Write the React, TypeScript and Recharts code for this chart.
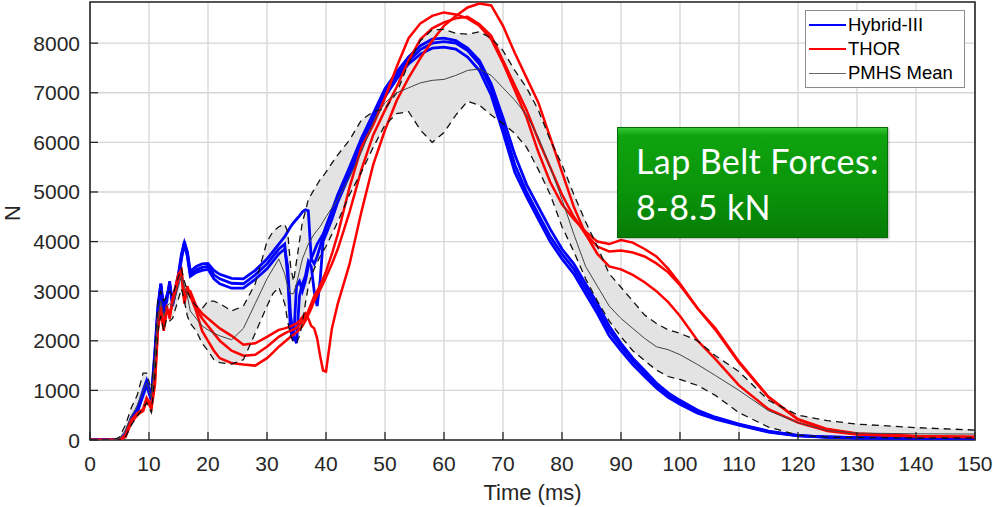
import { ComposedChart, Line, Area, XAxis, YAxis, CartesianGrid, ReferenceArea, Legend } from 'recharts'

// time axis (ms), shared by every trace
const TIME = [
  0, 4, 5, 6, 7, 8, 9, 9.6, 10.4, 11,
  11.5, 12, 12.5, 13, 13.5, 14, 15, 15.5, 16, 16.5,
  17, 18, 19, 20, 21, 22, 24, 26, 28, 30,
  31, 32, 33, 33.5, 34, 34.5, 35, 35.5, 36, 36.5,
  37, 37.5, 38, 38.5, 39, 39.5, 40, 41, 42, 44,
  46, 48, 50, 52, 54, 56, 58, 60, 62, 64,
  66, 68, 70, 72, 74, 76, 78, 80, 82, 84,
  86, 88, 90, 92, 94, 96, 98, 100, 103, 106,
  110, 115, 120, 125, 130, 140, 150,
]

// Hybrid-III lap belt force (N), three tests
const HYBRID_1 = [
  0, 0, 0, 120, 450, 620, 1000, 1200, 880, 1800,
  2700, 3150, 2650, 2900, 3100, 2800, 3350, 3750, 3980, 3800,
  3400, 3500, 3550, 3560, 3420, 3340, 3260, 3250, 3420, 3650,
  3800, 3950, 4100, 4200, 4300, 4380, 4450, 4520, 4600, 4640,
  4620, 3650, 3550, 3700, 3900, 4100, 4300, 4620, 4950, 5500,
  6080, 6580, 7080, 7420, 7720, 7950, 8080, 8100, 8050, 7900,
  7650, 7180, 6500, 5750, 5150, 4700, 4250, 3850, 3550, 3150,
  2750, 2300, 1950, 1650, 1400, 1150, 950, 800, 600, 460,
  320, 180, 95, 60, 45, 40, 40,
]
const HYBRID_2 = [
  0, 0, 0, 100, 420, 580, 950, 1150, 820, 1700,
  2600, 3150, 2600, 2850, 3150, 2750, 3300, 3700, 4000, 3750,
  3350, 3430, 3480, 3500, 3330, 3250, 3160, 3150, 3330, 3550,
  3700, 3850, 3950, 3300, 2200, 2000, 3100, 3200, 3000, 3200,
  3500, 3650, 3800, 3950, 4050, 4150, 4300, 4600, 4900, 5450,
  6000, 6500, 7000, 7350, 7650, 7870, 8000, 8030, 8000, 7850,
  7580, 7080, 6350, 5550, 5000, 4550, 4100, 3750, 3450, 3050,
  2650, 2200, 1880, 1600, 1350, 1100, 900, 760, 570, 440,
  310, 170, 90, 60, 45, 40, 40,
]
const HYBRID_3 = [
  0, 0, 0, 80, 400, 560, 900, 1100, 800, 1600,
  2500, 3100, 2550, 2800, 3200, 2700, 3250, 3650, 3950, 3700,
  3300, 3380, 3420, 3440, 3250, 3150, 3060, 3060, 3240, 3450,
  3600, 3750, 3850, 3500, 2500, 2100, 1950, 2900, 3150, 3300,
  3600, 3500, 3000, 2700, 3200, 4000, 4150, 4450, 4800, 5350,
  5900, 6420, 6920, 7280, 7580, 7780, 7900, 7920, 7880, 7720,
  7450, 6950, 6200, 5400, 4900, 4450, 4000, 3650, 3350, 2950,
  2550, 2100, 1800, 1520, 1280, 1050, 860, 720, 540, 420,
  300, 160, 85, 55, 40, 35, 35,
]

// THOR lap belt force (N), three tests
const THOR_1 = [
  0, 0, 0, 60, 350, 500, 600, 780, 680, 1200,
  2300, 2600, 2200, 2650, 2500, 2800, 3300, 3400, 2800, 3050,
  2950, 2650, 2450, 2300, 2150, 2000, 1800, 1700, 1720, 1880,
  1980, 2080, 2150, 2180, 2200, 2230, 2260, 2320, 2400, 2480,
  2600, 2750, 2900, 3000, 3120, 3250, 3400, 3750, 4150, 5100,
  5900, 6350, 6900, 7530, 8100, 8400, 8550, 8620, 8580, 8500,
  8350, 8080, 7600, 7050, 6500, 5800, 5200, 4750, 4450, 4200,
  4000, 3950, 4030, 3980, 3850, 3700, 3450, 3150, 2650, 2250,
  1580, 870, 420, 220, 130, 80, 60,
]
const THOR_2 = [
  0, 0, 0, 80, 380, 520, 580, 820, 620, 1100,
  2200, 2650, 2300, 2600, 2550, 2750, 3250, 3350, 2750, 3100,
  2900, 2600, 2200, 2000, 1800, 1650, 1550, 1520, 1500, 1650,
  1760, 1880, 1980, 2030, 2080, 2120, 2170, 2230, 2300, 2400,
  2520, 2650, 2800, 2920, 3030, 3150, 3280, 3550, 3850, 4600,
  5450, 6150, 6650, 7120, 7650, 8080, 8300, 8420, 8500, 8530,
  8380, 8150, 7650, 7150, 6650, 6050, 5500, 4950, 4500, 4150,
  3900, 3800, 3820, 3780, 3700, 3560, 3380, 3120, 2650, 2220,
  1560, 860, 410, 210, 120, 75, 60,
]
const THOR_3 = [
  0, 0, 0, 100, 400, 540, 620, 850, 700, 1300,
  2400, 2700, 2250, 2700, 2450, 2850, 3350, 3430, 2850, 3000,
  3000, 2700, 2550, 2450, 2350, 2250, 2100, 1920, 1950, 2080,
  2150, 2220, 2250, 2270, 2290, 2320, 2350, 2400, 2480, 2550,
  2450, 2300, 2250, 2050, 1700, 1400, 1380, 2250, 2750, 3550,
  4600, 5550, 6250, 6850, 7300, 7700, 8050, 8350, 8550, 8720,
  8800, 8760, 8350, 7800, 7300, 6800, 6100, 5400, 4700, 4150,
  3750, 3500, 3440, 3330, 3180, 3000, 2780, 2500, 2000, 1630,
  1100, 620, 350, 180, 110, 70, 60,
]

// PMHS corridor
const PMHS_MEAN = [
  0, 0, 30, 200, 480, 700, 1000, 1150, 850, 1600,
  2400, 2800, 2500, 2700, 2750, 2700, 3100, 3300, 3100, 2900,
  2600, 2450, 2300, 2220, 2150, 2100, 2020, 2250, 2750, 3250,
  3450, 3650, 3350, 3100, 2950, 2950, 3150, 3400, 3650, 3800,
  3950, 4050, 4150, 4230, 4300, 4400, 4500, 4680, 4850, 5300,
  5800, 6400, 6800, 7000, 7100, 7200, 7250, 7270, 7350, 7450,
  7480, 7350, 7100, 6850, 6550, 6100, 5500, 4850, 4150, 3500,
  3100, 2700, 2450, 2250, 2050, 1880, 1820, 1720, 1520, 1300,
  1000, 590, 350, 190, 140, 125, 120,
]
const PMHS_UPPER = [
  0, 0, 60, 300, 650, 900, 1350, 1350, 1000, 1800,
  2800, 3000, 2800, 2900, 3000, 2900, 3300, 3450, 3200, 3000,
  2850, 2700, 2650, 2800, 2800, 2750, 2600, 2700, 3150, 4000,
  4200, 4300, 4350, 4200, 3500, 3200, 3600, 4000, 4400, 4600,
  4850, 4950, 5050, 5150, 5250, 5320, 5400, 5580, 5750, 6050,
  6450, 6620, 6680, 7000, 7600, 8050, 8270, 8280, 8200, 8180,
  8230, 8100, 7850, 7450, 7100, 6650, 6050, 5550, 4950, 4400,
  3900, 3350, 3080, 2800, 2520, 2350, 2220, 2150, 2000, 1700,
  1380, 800, 500, 390, 320, 250, 200,
]
const PMHS_LOWER = [
  0, 0, 0, 60, 300, 480, 650, 750, 550, 1300,
  2200, 2500, 2200, 2450, 2400, 2450, 2850, 3050, 2800, 2500,
  2350, 2200, 1950, 1800, 1620, 1560, 1530, 1620, 2150, 2700,
  2950, 3080, 2750, 2400, 2100, 1980, 1950, 2100, 2350, 2750,
  3100, 3300, 3450, 3580, 3700, 3800, 3900, 4150, 4400, 4950,
  5400, 5900, 6350, 6580, 6620, 6250, 6000, 6200, 6550, 6830,
  6750, 6550, 6380, 6180, 5900, 5450, 4950, 4300, 3800, 3250,
  2800, 2400, 2080, 1800, 1600, 1410, 1280, 1220, 1100, 900,
  550, 260, 100, 60, 50, 40, 40,
]

const X_TICKS = [0, 10, 20, 30, 40, 50, 60, 70, 80, 90, 100, 110, 120, 130, 140, 150]
const Y_TICKS = [0, 1000, 2000, 3000, 4000, 5000, 6000, 7000, 8000]
const Y_MAX = 8830

const BLUE = '#0000ff'
const RED = '#ff0000'
const INK = '#262626'
const FONT = '"Liberation Sans", Arial, sans-serif'

const LEGEND_ITEMS = [
  { name: 'Hybrid-III', color: BLUE, width: 2.5 },
  { name: 'THOR', color: RED, width: 2.5 },
  { name: 'PMHS Mean', color: '#666', width: 1 },
]

const rows = TIME.map((t, i) => ({
  t,
  h1: HYBRID_1[i], h2: HYBRID_2[i], h3: HYBRID_3[i],
  t1: THOR_1[i], t2: THOR_2[i], t3: THOR_3[i],
  mean: PMHS_MEAN[i], upper: PMHS_UPPER[i], lower: PMHS_LOWER[i],
  band: [PMHS_LOWER[i], PMHS_UPPER[i]],
}))

function BottomTick({ x, y, payload }: any) {
  return (
    <g>
      <line x1={x} y1={y} x2={x} y2={y - 8} stroke={INK} strokeWidth={1.3} />
      <text x={x} y={y + 31} textAnchor="middle" fontSize={21} fontFamily={FONT} fill={INK}>{payload.value}</text>
    </g>
  )
}
function LeftTick({ x, y, payload }: any) {
  return (
    <g>
      <line x1={x} y1={y} x2={x + 8} y2={y} stroke={INK} strokeWidth={1.3} />
      <text x={x - 10} y={y + 7.5} textAnchor="end" fontSize={21} fontFamily={FONT} fill={INK}>{payload.value}</text>
    </g>
  )
}
const TopTick = ({ x, y }: any) => <line x1={x} y1={y} x2={x} y2={y + 8} stroke={INK} strokeWidth={1.3} />
const RightTick = ({ x, y }: any) => <line x1={x} y1={y} x2={x - 8} y2={y} stroke={INK} strokeWidth={1.3} />

function LegendBox() {
  return (
    <div style={{ background: '#fff', border: '1px solid #8c8c8c', padding: '2px 4px 2px 3px', fontFamily: FONT, fontSize: 18.5, color: '#000' }}>
      {LEGEND_ITEMS.map(item => (
        <div key={item.name} style={{ display: 'flex', alignItems: 'center', height: 24 }}>
          <span style={{ display: 'inline-block', width: 37, height: 0, borderTop: `${item.width}px solid ${item.color}`, marginRight: 2 }} />
          <span>{item.name}</span>
        </div>
      ))}
    </div>
  )
}

export default function App() {
  const lineProps = { dot: false, isAnimationActive: false, type: 'linear' as const }
  return (
    <div style={{ position: 'absolute', left: 0, top: 0, width: 993, height: 507, background: '#fff' }}>
      <ComposedChart width={993} height={507} data={rows} margin={{ top: 2, right: 18, bottom: 0, left: 0 }}>
        <CartesianGrid stroke="#d6d6d6" strokeWidth={1.3} />
        <XAxis dataKey="t" type="number" domain={[0, 150]} ticks={X_TICKS} height={67} tickSize={0} tickMargin={0}
          axisLine={false} tickLine={false} tick={<BottomTick />} interval={0}
          label={{ value: 'Time (ms)', position: 'insideBottom', offset: 7, style: { fontSize: 22, fontFamily: FONT, fill: INK } }} />
        <XAxis xAxisId="top" orientation="top" type="number" domain={[0, 150]} ticks={X_TICKS} height={0}
          tickSize={0} tickMargin={0} axisLine={false} tickLine={false} tick={<TopTick />} interval={0} />
        <YAxis type="number" domain={[0, Y_MAX]} ticks={Y_TICKS} width={90} tickSize={0} tickMargin={0}
          axisLine={false} tickLine={false} tick={<LeftTick />} interval={0} allowDataOverflow
          label={{ value: 'N', angle: -90, position: 'insideLeft', offset: 12, style: { fontSize: 22, fontFamily: FONT, fill: INK } }} />
        <YAxis yAxisId="right" orientation="right" type="number" domain={[0, Y_MAX]} ticks={Y_TICKS} width={0}
          tickSize={0} tickMargin={0} axisLine={false} tickLine={false} tick={<RightTick />} interval={0} />

        <Area dataKey="band" stroke="none" fill="#e3e3e3" fillOpacity={1} isAnimationActive={false} type="linear" />

        <Line dataKey="h1" stroke={BLUE} strokeWidth={2.8} {...lineProps} />
        <Line dataKey="h2" stroke={BLUE} strokeWidth={2.8} {...lineProps} />
        <Line dataKey="h3" stroke={BLUE} strokeWidth={2.8} {...lineProps} />
        <Line dataKey="t1" stroke={RED} strokeWidth={2.5} {...lineProps} />
        <Line dataKey="t2" stroke={RED} strokeWidth={2.5} {...lineProps} />
        <Line dataKey="t3" stroke={RED} strokeWidth={2.5} {...lineProps} />

        <Line dataKey="upper" stroke="#111" strokeWidth={1.3} strokeDasharray="7 5" {...lineProps} />
        <Line dataKey="lower" stroke="#111" strokeWidth={1.3} strokeDasharray="7 5" {...lineProps} />
        <Line dataKey="mean" stroke="#444" strokeWidth={1} {...lineProps} />

        <ReferenceArea x1={0} x2={150} y1={0} y2={Y_MAX} fill="none" stroke={INK} strokeWidth={1.6} ifOverflow="visible" />

        <Legend layout="vertical" align="center" verticalAlign="middle" content={<LegendBox />}
          wrapperStyle={{ top: 10, left: 805, width: 160 }} />
      </ComposedChart>

      <div style={{
        position: 'absolute', left: 617, top: 127, width: 271, height: 111, boxSizing: 'border-box',
        background: 'linear-gradient(180deg, #36c636 0%, #0fa30f 7%, #099309 60%, #077c07 100%)',
        border: '1px solid #066a06', boxShadow: '1px 1px 2px rgba(0,0,0,0.3)',
        color: '#fff', fontFamily: 'Lato, "Open Sans", sans-serif', fontSize: 34, letterSpacing: 0.4, lineHeight: '46px',
        padding: '10px 0 0 18px', whiteSpace: 'nowrap', overflow: 'hidden',
      }}>
        <div>Lap Belt Forces:</div>
        <div>8-8.5 kN</div>
      </div>
    </div>
  )
}
